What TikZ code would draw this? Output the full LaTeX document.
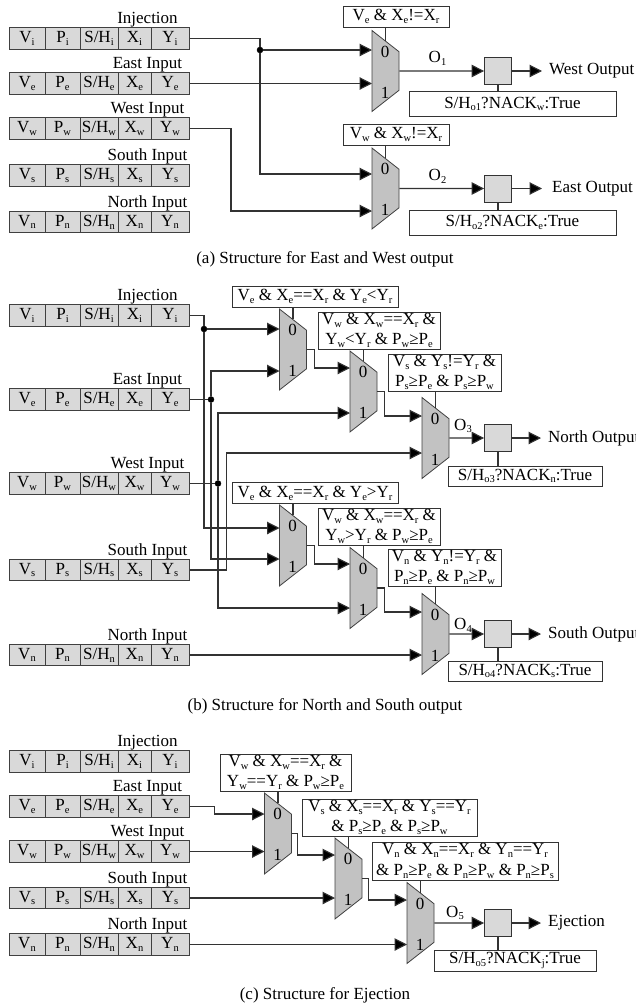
\documentclass[tikz,border=0pt]{standalone}
\usepackage{fontspec}
\setmainfont{Liberation Serif}
\usetikzlibrary{arrows.meta,positioning,shapes.geometric,calc}
\newcommand{\fs}{\fontsize{17}{20.5}\selectfont}
\newcommand{\low}[1]{\raisebox{-2.8pt}{\fontsize{10.5}{10.5}\selectfont #1}}
\definecolor{cellgray}{HTML}{D9D9D9}
\definecolor{muxgray}{HTML}{C2C2C2}
\tikzset{
  cell/.style={draw=black!75, fill=cellgray, rectangle, minimum height=21.5pt, inner sep=0pt, font=\fs, line width=1pt},
  lab/.style={inner sep=0pt, font=\fs, yshift=-1pt},
  cond/.style={draw=black!80, fill=white, rectangle, inner sep=0pt, align=center, font=\fs, line width=0.8pt},
  mux/.style={draw=black!75, fill=muxgray, trapezium, trapezium stretches=true, shape border rotate=270,
    trapezium angle=53.5, minimum width=81pt, minimum height=27pt, inner sep=0pt, line width=0.8pt},
  reg/.style={draw=black!80, fill=cellgray, rectangle, minimum size=27pt, inner sep=0pt, line width=0.8pt},
  dot/.style={draw, fill=black, circle, minimum size=6pt, inner sep=0pt},
  outlab/.style={anchor=west, inner sep=0pt, inner xsep=7pt, font=\fs},
  wire/.style={draw=black!80, line width=1.1pt},
  arr/.style={wire, -{Triangle[length=12.5pt, width=12.5pt, fill=black]}},
}
\newcommand{\inrow}[4]{%
  \node[cell, minimum width=36pt] (#1-v) at (27,#3) {V\low{#2}};
  \node[cell, minimum width=35pt] (#1-p) at (62.5,#3) {P\low{#2}};
  \node[cell, minimum width=38pt] (#1-sh) at (99,#3) {S/H\low{#2}};
  \node[cell, minimum width=33pt] (#1-x) at (134.5,#3) {X\low{#2}};
  \node[cell, minimum width=38pt] (#1-y) at (170,#3) {Y\low{#2}};
  \node[lab] (#1-l) at (147.5,#3-20) {#4};
}
\newcommand{\muxnode}[5]{%
  \node[mux] (#1) at (#2+13.5,#3) {\phantom{0}};
  \node[lab] (#1-a) at (#2+13,#3-20.5) {0};
  \node[lab] (#1-b) at (#2+13,#3+20.5) {1};
  \coordinate (#1-0) at (#2,#4);
  \coordinate (#1-1) at (#2,#5);
}
\begin{document}
\begin{tikzpicture}[x=1pt, y=-1pt]
\useasboundingbox (0,0) rectangle (636,1007);

% (a)
\inrow{ai}{i}{38.5}{Injection}
\inrow{ae}{e}{83.5}{East Input}
\inrow{aw}{w}{128.5}{West Input}
\inrow{as}{s}{175.5}{South Input}
\inrow{an}{n}{222}{North Input}

\muxnode{m1}{372}{71}{50}{83.5}
\muxnode{m2}{372}{188.5}{174}{211}

\node[cond, minimum width=106pt, minimum height=21pt] (c1) at (396,16.5) {V\low{e} \& X\low{e}!=X\low{r}};
\node[cond, minimum width=106pt, minimum height=21pt] (c2) at (396,134.5) {V\low{w} \& X\low{w}!=X\low{r}};

\node[reg] (r1) at (498,71) {};
\node[reg] (r2) at (498,188.5) {};
\node[cond, minimum width=207pt, minimum height=25pt] (n1) at (512.5,104) {S/H\low{o1}?NACK\low{w}:True};
\node[cond, minimum width=207pt, minimum height=25pt] (n2) at (512.5,222.5) {S/H\low{o2}?NACK\low{e}:True};
\node[lab] (o1) at (437.5,57) {O\low{1}};
\node[lab] (o2) at (437.5,175) {O\low{2}};
\node[outlab] (w1) at (542,71) {West Output};
\node[outlab, inner xsep=10pt] (w2) at (542,188.5) {East Output};
\node[dot] (ja) at (260,50) {};

\draw[arr] (ai-y.east) -| (ja) |- (m2-0);
\draw[arr] (ja) -- (m1-0);
\draw[arr] (ae-y.east) -- (m1-1);
\draw[arr] (aw-y.east) -- ++(41.5,0) |- (m2-1);
\draw[wire] (m1.north) -- (m1.north |- c1.south);
\draw[wire] (m2.north) -- (m2.north |- c2.south);
\draw[arr] (m1.east) -- (r1.west);
\draw[arr] (m2.east) -- (r2.west);
\draw[arr] (r1.east) -- (w1.west);
\draw[arr] (r2.east) -- (w2.west);
\draw[wire] (r1.south) -- (r1.south |- n1.north);
\draw[wire] (r2.south) -- (r2.south |- n2.north);

\node[lab] (capa) at (325,258) {(a) Structure for East and West output};

% (b)
\inrow{bi}{i}{315.5}{Injection}
\inrow{be}{e}{399.5}{East Input}
\inrow{bw}{w}{483.5}{West Input}
\inrow{bs}{s}{570}{South Input}
\inrow{bn}{n}{655}{North Input}

\muxnode{ma}{279.5}{349.5}{329}{371}
\muxnode{mb}{350}{391.5}{368}{413}
\muxnode{mc}{422}{438}{416}{453}
\muxnode{md}{279.5}{545.5}{528}{559}
\muxnode{me}{350}{588}{564}{608}
\muxnode{mf}{422}{634}{612}{655}

\node[cond, minimum width=166pt, minimum height=21pt] (ca) at (315,296.5) {V\low{e} \& X\low{e}==X\low{r} \& Y\low{e}<Y\low{r}};
\node[cond, minimum width=122pt, minimum height=37pt] (cb) at (379,330.5) {V\low{w} \& X\low{w}==X\low{r} \&\\Y\low{w}<Y\low{r} \& P\low{w}≥P\low{e}};
\node[cond, minimum width=113pt, minimum height=37pt] (cc) at (444.5,372.5) {V\low{s} \& Y\low{s}!=Y\low{r} \&\\P\low{s}≥P\low{e} \& P\low{s}≥P\low{w}};
\node[cond, minimum width=166pt, minimum height=21pt] (cd) at (315,493) {V\low{e} \& X\low{e}==X\low{r} \& Y\low{e}>Y\low{r}};
\node[cond, minimum width=122pt, minimum height=37pt] (ce) at (379,526.5) {V\low{w} \& X\low{w}==X\low{r} \&\\Y\low{w}>Y\low{r} \& P\low{w}≥P\low{e}};
\node[cond, minimum width=113pt, minimum height=37pt] (cf) at (444.5,567.5) {V\low{n} \& Y\low{n}!=Y\low{r} \&\\P\low{n}≥P\low{e} \& P\low{n}≥P\low{w}};

\node[reg] (r3) at (498,438) {};
\node[reg] (r4) at (498,634) {};
\node[cond, minimum width=154pt, minimum height=20pt] (n3) at (525,476) {S/H\low{o3}?NACK\low{n}:True};
\node[cond, minimum width=154pt, minimum height=20pt] (n4) at (525,671) {S/H\low{o4}?NACK\low{s}:True};
\node[lab] (o3) at (463,425) {O\low{3}};
\node[lab] (o4) at (463,624) {O\low{4}};
\node[outlab] (w3) at (541,438) {North Output};
\node[outlab] (w4) at (541,634) {South Output};
\node[dot] (jb) at (204,329) {};
\node[dot] (jc) at (211,399.5) {};
\node[dot] (jd) at (218,483.5) {};

\draw[arr] (bi-y.east) -| (jb) |- (md-0);
\draw[arr] (jb) -- (ma-0);
\draw[wire] (be-y.east) -- (jc);
\draw[arr] (jc) |- (ma-1);
\draw[arr] (jc) |- (md-1);
\draw[wire] (bw-y.east) -- (jd);
\draw[arr] (jd) |- (mb-1);
\draw[arr] (jd) |- (me-1);
\draw[arr] (bs-y.east) -- ++(37,0) |- (mc-1);
\draw[arr] (bn-y.east) -- (mf-1);
\draw[arr] (ma.east) -- ++(8,0) |- (mb-0);
\draw[arr] (mb.east) -- ++(7,0) |- (mc-0);
\draw[arr] (md.east) -- ++(8,0) |- (me-0);
\draw[arr] (me.east) -- ++(7,0) |- (mf-0);
\draw[wire] (ma.north) -- (ma.north |- ca.south);
\draw[wire] (mb.north) -- (mb.north |- cb.south);
\draw[wire] (mc.north) -- (mc.north |- cc.south);
\draw[wire] (md.north) -- (md.north |- cd.south);
\draw[wire] (me.north) -- (me.north |- ce.south);
\draw[wire] (mf.north) -- (mf.north |- cf.south);
\draw[arr] (mc.east) -- (r3.west);
\draw[arr] (mf.east) -- (r4.west);
\draw[arr] (r3.east) -- (w3.west);
\draw[arr] (r4.east) -- (w4.west);
\draw[wire] (r3.south) -- (r3.south |- n3.north);
\draw[wire] (r4.south) -- (r4.south |- n4.north);

\node[lab] (capb) at (325,705) {(b) Structure for North and South output};

% (c)
\inrow{ci}{i}{761.5}{Injection}
\inrow{ce}{e}{806.5}{East Input}
\inrow{cw}{w}{851.5}{West Input}
\inrow{cs}{s}{898}{South Input}
\inrow{cn}{n}{944.5}{North Input}

\muxnode{mg}{264.5}{833.5}{814}{851.5}
\muxnode{mh}{335}{878.5}{855}{898}
\muxnode{mi}{407}{923}{900}{944.5}

\node[cond, minimum width=131pt, minimum height=37pt] (cg) at (285.5,772.5) {V\low{w} \& X\low{w}==X\low{r} \&\\Y\low{w}==Y\low{r} \& P\low{w}≥P\low{e}};
\node[cond, minimum width=175pt, minimum height=37pt] (ch) at (389.5,817.5) {V\low{s} \& X\low{s}==X\low{r} \& Y\low{s}==Y\low{r}\\\& P\low{s}≥P\low{e} \& P\low{s}≥P\low{w}};
\node[cond, minimum width=186pt, minimum height=38pt] (ck) at (465,861) {V\low{n} \& X\low{n}==X\low{r} \& Y\low{n}==Y\low{r}\\\& P\low{n}≥P\low{e} \& P\low{n}≥P\low{w} \& P\low{n}≥P\low{s}};

\node[reg] (r5) at (498,923) {};
\node[cond, minimum width=162pt, minimum height=21pt] (n5) at (515,960.5) {S/H\low{o5}?NACK\low{j}:True};
\node[lab] (o5) at (455,912) {O\low{5}};
\node[outlab] (w5) at (541,923) {Ejection};

\draw[arr] (ce-y.east) -- ++(25,0) |- (mg-0);
\draw[arr] (cw-y.east) -- (mg-1);
\draw[arr] (cs-y.east) -- (mh-1);
\draw[arr] (cn-y.east) -- (mi-1);
\draw[arr] (mg.east) -- ++(6,0) |- (mh-0);
\draw[arr] (mh.east) -- ++(6,0) |- (mi-0);
\draw[wire] (mg.north) -- (mg.north |- cg.south);
\draw[wire] (mh.north) -- (mh.north |- ch.south);
\draw[wire] (mi.north) -- (mi.north |- ck.south);
\draw[arr] (mi.east) -- (r5.west);
\draw[arr] (r5.east) -- (w5.west);
\draw[wire] (r5.south) -- (r5.south |- n5.north);

\node[lab] (capc) at (325,994) {(c) Structure for Ejection};

\end{tikzpicture}
\end{document}
